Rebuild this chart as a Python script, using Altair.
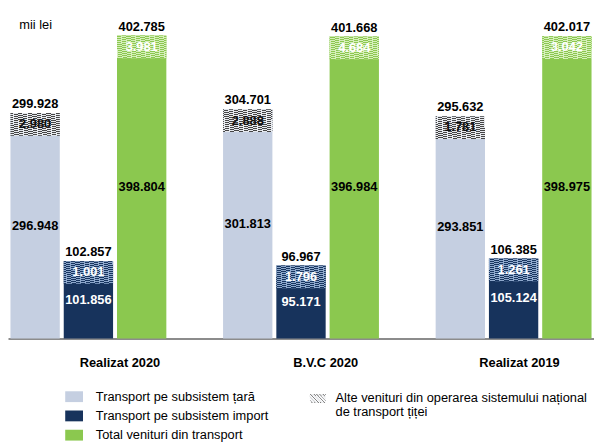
import altair as alt
import pandas as pd

# ---- data ----
categories = ["Realizat 2020", "B.V.C 2020", "Realizat 2019"]
series_names = ["Transport pe subsistem țară", "Transport pe subsistem import", "Total venituri din transport"]
alte_name = "Alte venituri din operarea sistemului național de transport țiței"

base_tara = [296.948, 301.813, 293.851]
alte_tara = [2.980, 2.888, 1.781]
total_tara = [299.928, 304.701, 295.632]

base_import = [101.856, 95.171, 105.124]
alte_import = [1.001, 1.796, 1.261]
total_import = [102.857, 96.967, 106.385]

base_total = [398.804, 396.984, 398.975]
alte_total = [3.981, 4.684, 3.042]
total_total = [402.785, 401.668, 402.017]

bar_colors = ["#c5cfe1", "#17335c", "#8bc84f"]

rows = []
for i, cat in enumerate(categories):
    for s, b, a, t in zip(series_names,
                          [base_tara[i], base_import[i], base_total[i]],
                          [alte_tara[i], alte_import[i], alte_total[i]],
                          [total_tara[i], total_import[i], total_total[i]]):
        rows.append({"grupa": cat, "serie": s, "baza": b, "alte": a, "total": t, "alte_lbl": alte_name})
df = pd.DataFrame(rows)

FONT = "Liberation Sans"


def hatch(dark, light, n=22, frac=0.45):
    stops = []
    for k in range(n):
        a = k / n
        b = (k + frac) / n
        c = (k + 1) / n
        stops += [{"offset": a, "color": dark}, {"offset": b, "color": dark},
                  {"offset": b, "color": light}, {"offset": c, "color": light}]
    return {"gradient": "linear", "x1": 0, "y1": 1, "x2": 0.73, "y2": -0.587, "stops": stops}


hatch_fills = [hatch("#454545", "#e6e9ee"), hatch("#17355f", "#8ea8cc"), hatch("#8bc84f", "#d6eebb")]

# legend symbol paths
rect_path = "M-1,-0.61H1V0.61H-1Z"

SHIFT = 0.85  # moves the hatch swatch down to line up with the first label line


def seg(c, hh=0.56):
    xlo = max(-1.0, c - hh)
    xhi = min(1.0, c + hh)
    return xlo, xhi


polys = []
c = -1.56
t = 0.11
while c <= 1.5:
    a_lo, a_hi = seg(c)
    b_lo, b_hi = seg(c + t)
    if a_lo < a_hi and b_lo < b_hi:
        polys.append(
            f"M{a_lo:.3f},{a_lo - c + SHIFT:.3f}L{a_hi:.3f},{a_hi - c + SHIFT:.3f}"
            f"L{b_hi:.3f},{b_hi - c - t + SHIFT:.3f}L{b_lo:.3f},{b_lo - c - t + SHIFT:.3f}Z"
        )
    c += 0.27
hatch_path = "".join(polys)

yscale = alt.Scale(domain=[0, 435.6], nice=False, zero=True)
yaxis = alt.Axis(title="mii lei", domain=False, ticks=False, labels=False, grid=False,
                 titleAngle=0, titleAlign="left", titleBaseline="middle", titleX=11, titleY=14,
                 titleFont=FONT, titleFontSize=13, titleFontWeight="normal", titleColor="#000")

xaxis = alt.Axis(title=None, ticks=False, domainColor="#8c8c8c", domainWidth=2,
                 labelFont=FONT, labelFontSize=13, labelFontWeight="bold", labelColor="#000",
                 labelPadding=18, labelAngle=0,
                 labelOffset={"condition": [{"test": "datum.value === 'Realizat 2020'", "value": 32},
                                            {"test": "datum.value === 'B.V.C 2020'", "value": 25}],
                              "value": 6})

base = alt.Chart(df).encode(
    x=alt.X("grupa:N", sort=categories, scale=alt.Scale(paddingInner=0.2668, paddingOuter=0.0116), axis=xaxis),
    xOffset=alt.XOffset("serie:N", sort=series_names, scale=alt.Scale(paddingInner=0.074, paddingOuter=0)),
)

bars = base.mark_bar().encode(
    y=alt.Y("total:Q", scale=yscale, axis=yaxis),
    color=alt.Color("serie:N", sort=series_names,
                    scale=alt.Scale(domain=series_names, range=bar_colors),
                    legend=alt.Legend(title=None, orient="none", legendX=58, legendY=382,
                                      direction="vertical", symbolType=rect_path, symbolSize=324,
                                      symbolStrokeWidth=0, labelFont=FONT, labelFontSize=13,
                                      labelColor="#000", labelOffset=13, rowPadding=3.5,
                                      padding=0, labelLimit=400)),
)

hatch_layers = []
for k, s in enumerate(series_names):
    enc = dict(y=alt.Y("total:Q", scale=yscale, axis=yaxis), y2=alt.Y2("total:Q"))
    if k == 0:
        enc["opacity"] = alt.Opacity(
            "alte_lbl:N", scale=alt.Scale(domain=[alte_name], range=[1]),
            legend=alt.Legend(title=None, orient="none", legendX=306, legendY=378,
                              symbolType=hatch_path, symbolSize=256, symbolFillColor="#3c3c3c",
                              symbolStrokeWidth=0, symbolOpacity=1,
                              labelFont=FONT, labelFontSize=13, labelColor="#000",
                              labelOffset=10, padding=0, labelLimit=500, labelBaseline="top",
                              labelExpr="['Alte venituri din operarea sistemului național', 'de transport țiței']"))
    hatch_layers.append(
        base.transform_filter(alt.datum.serie == s)
        .mark_bar(fill=hatch_fills[k], y2Offset=23)
        .encode(**enc)
    )

totals = base.mark_text(font=FONT, fontSize=13, fontWeight="bold", color="#000",
                        baseline="alphabetic", dy=-5).encode(
    y=alt.Y("total:Q", scale=yscale, axis=yaxis),
    text=alt.Text("total:Q", format=".3f"),
)

alte_txt = base.mark_text(font=FONT, fontSize=13, fontWeight="bold",
                          baseline="middle", dy=11.5).encode(
    y=alt.Y("total:Q", scale=yscale, axis=yaxis),
    text=alt.Text("alte:Q", format=".3f"),
    fill=alt.condition(alt.datum.serie == series_names[0], alt.value("#111111"), alt.value("#ffffff")),
)

base_txt = base.transform_calculate(mij="datum.total / 2").mark_text(
    font=FONT, fontSize=13, fontWeight="bold", baseline="middle").encode(
    y=alt.Y("mij:Q", scale=yscale, axis=yaxis),
    text=alt.Text("baza:Q", format=".3f"),
    fill=alt.condition(alt.datum.serie == series_names[1], alt.value("#ffffff"), alt.value("#000000")),
)

chart = alt.layer(bars, *hatch_layers, totals, alte_txt, base_txt).properties(
    width=594, height=332,
    autosize=alt.AutoSizeParams(type="none"),
    padding={"left": 0, "top": 0, "right": 0, "bottom": 106},
    background="#ffffff",
).configure_view(stroke=None)

chart.save("out.html", embed_options={"renderer": "svg", "actions": False})
